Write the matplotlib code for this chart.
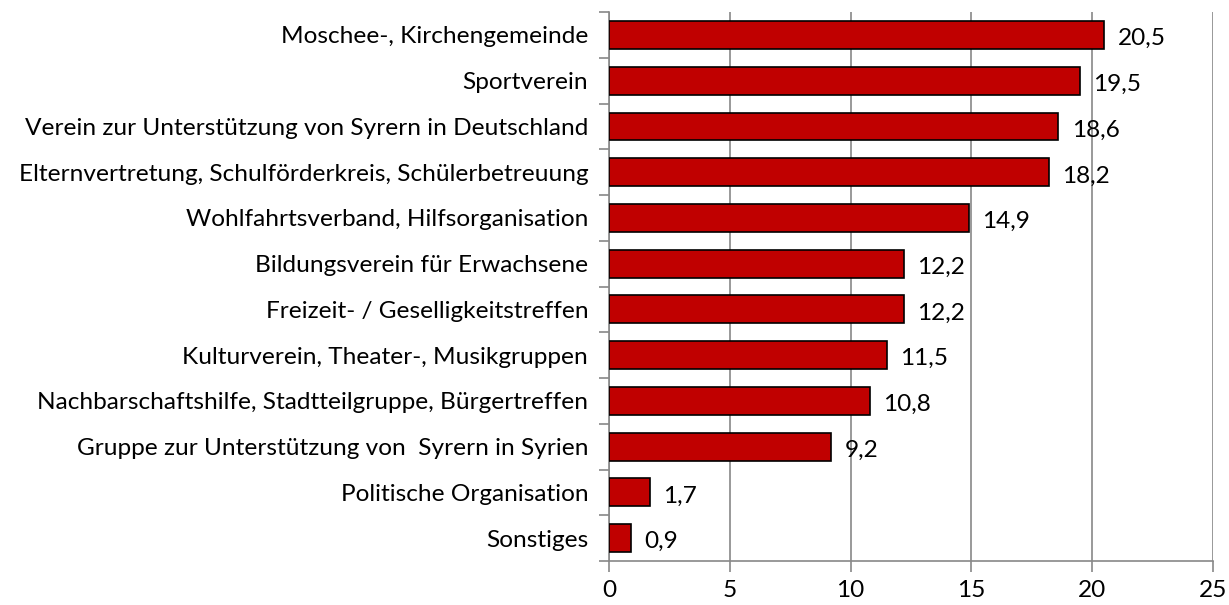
import matplotlib
matplotlib.use('Agg')
from matplotlib import pyplot as plt
import numpy as np

categories = ['Moschee-, Kirchengemeinde',
              'Sportverein',
              'Verein zur Unterstützung von Syrern in Deutschland',
              'Elternvertretung, Schulförderkreis, Schülerbetreuung',
              'Wohlfahrtsverband, Hilfsorganisation',
              'Bildungsverein für Erwachsene',
              'Freizeit- / Geselligkeitstreffen',
              'Kulturverein, Theater-, Musikgruppen',
              'Nachbarschaftshilfe, Stadtteilgruppe, Bürgertreffen',
              'Gruppe zur Unterstützung von  Syrern in Syrien',
              'Politische Organisation',
              'Sonstiges']
values = [20.5, 19.5, 18.6, 18.2, 14.9, 12.2, 12.2, 11.5, 10.8, 9.2, 1.7, 0.9]
xticks = [0, 5, 10, 15, 20, 25]

plt.rcParams['font.family'] = ['Lato', 'DejaVu Sans']
fs = 17.6

fig = plt.figure(figsize=(12.29, 6.05), dpi=100)
ax = fig.add_axes([0.4955, 0.0727, 0.4915, 0.9073])

y = np.arange(len(categories))[::-1]
ax.barh(y, values, height=0.61, color='#C00000', edgecolor='black', linewidth=1.2, zorder=3)
for yi, v in zip(y, values):
    ax.text(v + 0.55, yi - 0.08, f'{v:.1f}'.replace('.', ','), va='center', ha='left', fontsize=fs)

ax.set_xlim(0, 25)
ax.set_ylim(-0.5, len(categories) - 0.5)
ax.set_xticks(xticks)
ax.set_xticklabels([str(t) for t in xticks], fontsize=fs)
ax.set_yticks(y)
ax.set_yticklabels(categories, fontsize=fs)
ax.tick_params(axis='y', length=0, pad=15)
ax.set_yticks(np.arange(-0.5, len(categories), 1), minor=True)
ax.tick_params(axis='y', which='minor', length=7, color='#888888', width=1.2)
ax.tick_params(axis='x', length=8, color='#888888', width=1.2, pad=6)
ax.grid(axis='x', color='#888888', linewidth=1.2, zorder=0)
for s in ['top', 'right']:
    ax.spines[s].set_visible(False)
for s in ['left', 'bottom']:
    ax.spines[s].set_color('#888888')
    ax.spines[s].set_linewidth(1.2)

fig.savefig('out.png', dpi=100)
